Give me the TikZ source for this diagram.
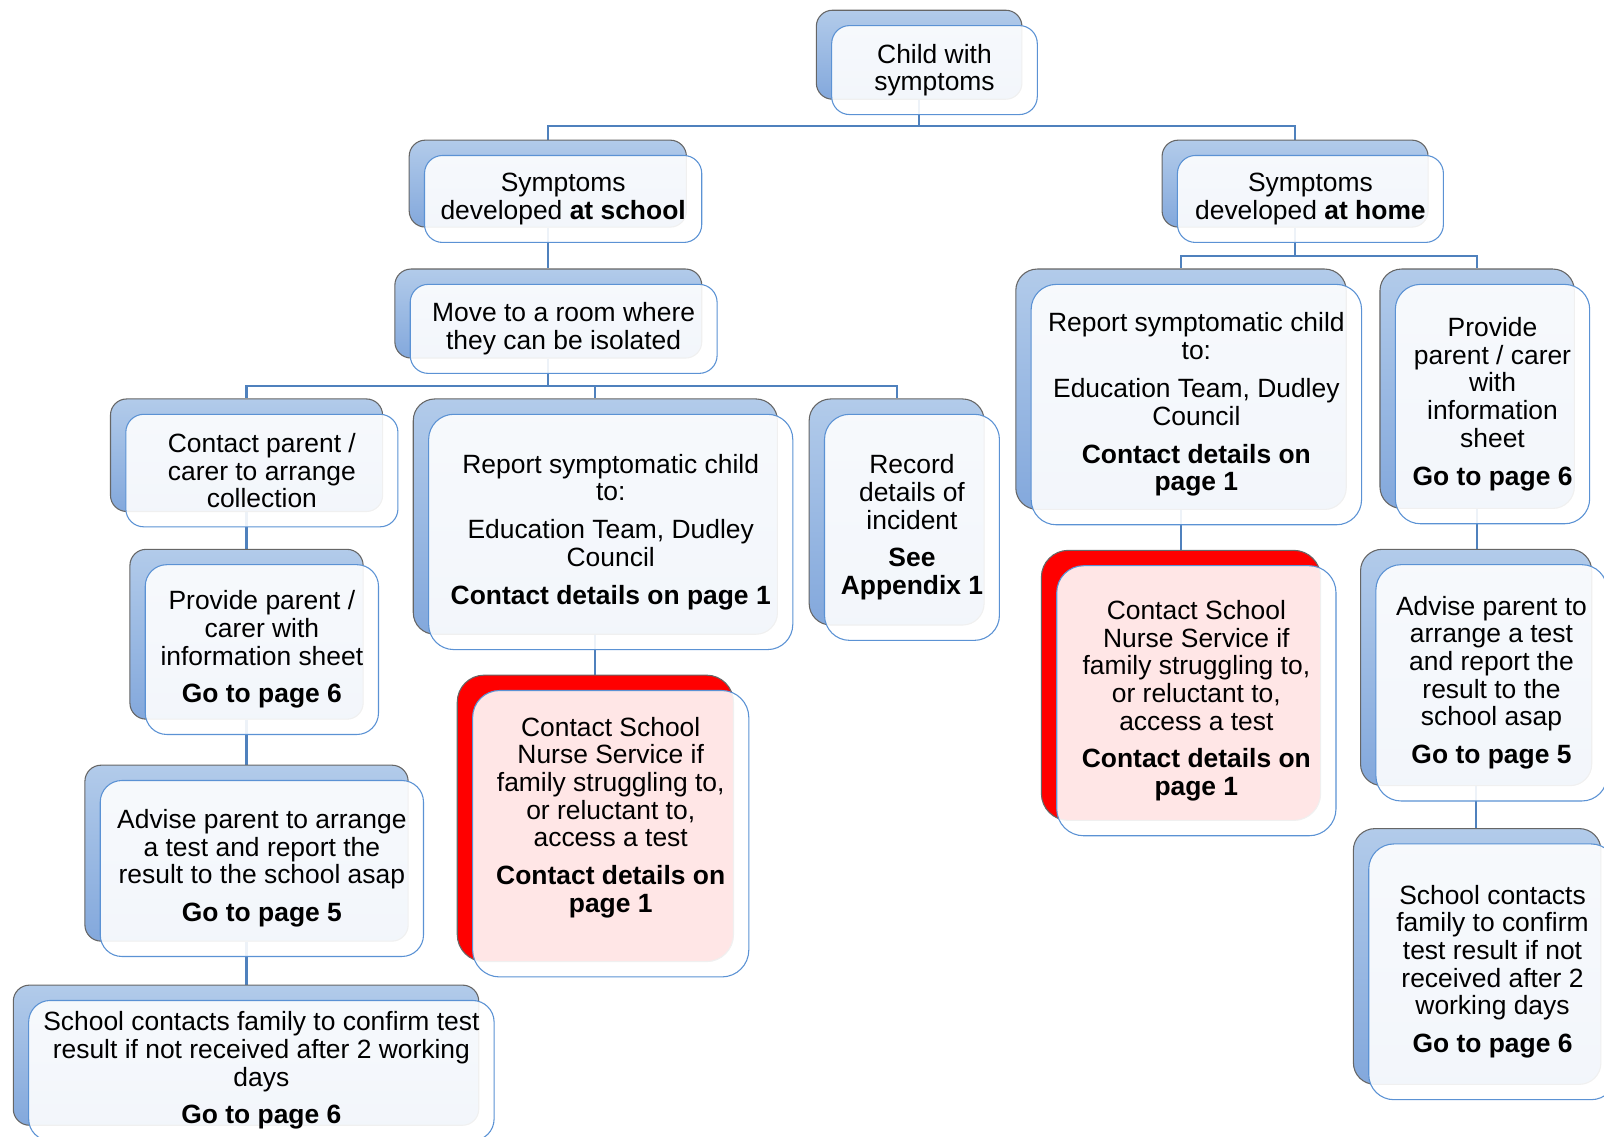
\documentclass[tikz,border=0pt]{standalone}
\usepackage{fontspec}
\setmainfont{Liberation Sans}
\usetikzlibrary{fit,backgrounds}
\definecolor{linkblue}{RGB}{79,129,189}
\definecolor{edgeblue}{RGB}{91,146,212}
\definecolor{shadetop}{RGB}{178,203,234}
\definecolor{shadebot}{RGB}{131,168,220}

\begin{document}
\begin{tikzpicture}[x=0.02cm,y=-0.02cm,
	backbox/.style={rectangle,rounded corners=9pt,draw=black!60,line width=0.6pt,top color=shadetop,bottom color=shadebot,inner sep=0pt},
	redbox/.style={rectangle,rounded corners=15pt,draw=black!60,line width=0.6pt,fill=red,inner sep=0pt},
	frontbox/.style={rectangle,rounded corners=10pt,draw=edgeblue,line width=0.6pt,fill=white,fill opacity=0.9,inner sep=0pt},
	pinkbox/.style={frontbox,rounded corners=15pt},
	cardtext/.style={align=center,inner sep=0pt,font=\fontsize{14.7}{15.4}\selectfont},
	link/.style={draw=linkblue,line width=1.2pt}]
	\useasboundingbox (0,0) rectangle (1568,1111);
	% top
	\node[backbox,fit={(798,10) (999,97)}] (child) {};
	\node[frontbox,fit={(813,25) (1014,112)}] (child-f) {};
	\node[cardtext] (child-t) at (child-f) {Child with\\symptoms};
	\node[backbox,fit={(400,137) (671,222)}] (atschool) {};
	\node[frontbox,fit={(415,152) (686,237)}] (atschool-f) {};
	\node[cardtext] (atschool-t) at (atschool-f) {Symptoms\\developed \textbf{at school}};
	\node[backbox,fit={(1136,137) (1396,222)}] (athome) {};
	\node[frontbox,fit={(1151,152) (1411,237)}] (athome-f) {};
	\node[cardtext] (athome-t) at (athome-f) {Symptoms\\developed \textbf{at home}};
	% at school
	\node[backbox,fit={(386,263) (686,350)}] (isolate) {};
	\node[frontbox,fit={(401,278) (701,365)}] (isolate-f) {};
	\node[cardtext] (isolate-t) at (isolate-f) {Move to a room where\\they can be isolated};
	\node[backbox,fit={(108,390) (374,500)}] (contact) {};
	\node[frontbox,fit={(123,405) (389,515)}] (contact-f) {};
	\node[cardtext] (contact-t) at (contact-f) {Contact parent /\\carer to arrange\\collection};
	\node[backbox,rounded corners=12pt,fit={(404,390) (760,620)}] (report) {};
	\node[frontbox,rounded corners=14pt,fit={(419,405) (775,635)}] (report-f) {};
	\node[cardtext] (report-t) at (report-f) {Report symptomatic child\\to:\\[5.7pt]Education Team, Dudley\\Council\\[5.7pt]\textbf{Contact details on page 1}};
	\node[backbox,rounded corners=12pt,fit={(791,390) (962,611)}] (record) {};
	\node[frontbox,rounded corners=14pt,fit={(806,405) (977,626)}] (record-f) {};
	\node[cardtext] (record-t) at (record-f) {Record\\details of\\incident\\[5.7pt]\textbf{See}\\\textbf{Appendix 1}};
	\node[backbox,fit={(127,537) (355,703)}] (leaflet) {};
	\node[frontbox,rounded corners=12pt,fit={(142,552) (370,718)}] (leaflet-f) {};
	\node[cardtext] (leaflet-t) at (leaflet-f) {Provide parent /\\carer with\\information sheet\\[5.7pt]\textbf{Go to page 6}};
	\node[backbox,fit={(83,748) (399,920)}] (advise) {};
	\node[frontbox,rounded corners=12pt,fit={(98,763) (414,935)}] (advise-f) {};
	\node[cardtext] (advise-t) at (advise-f) {Advise parent to arrange\\a test and report the\\result to the school asap\\[5.7pt]\textbf{Go to page 5}};
	\node[backbox,fit={(13,963) (468,1100)}] (confirm) {};
	\node[frontbox,rounded corners=12pt,fit={(28,978) (483,1115)}] (confirm-f) {};
	\node[cardtext] (confirm-t) at (confirm-f) {School contacts family to confirm test\\result if not received after 2 working\\days\\[5.7pt]\textbf{Go to page 6}};
	\node[redbox,fit={(447,660) (717,940)}] (nurse) {};
	\node[pinkbox,fit={(462,675) (732,955)}] (nurse-f) {};
	\node[cardtext,yshift=9pt] (nurse-t) at (nurse-f) {Contact School\\Nurse Service if\\family struggling to,\\or reluctant to,\\access a test\\[5.7pt]\textbf{Contact details on}\\\textbf{page 1}};
	% at home
	\node[backbox,rounded corners=12pt,fit={(993,263) (1316,498)}] (reporth) {};
	\node[frontbox,rounded corners=14pt,fit={(1008,278) (1331,513)}] (reporth-f) {};
	\node[cardtext] (reporth-t) at (reporth-f) {Report symptomatic child\\to:\\[5.7pt]Education Team, Dudley\\Council\\[5.7pt]\textbf{Contact details on}\\\textbf{page 1}};
	\node[backbox,rounded corners=12pt,fit={(1349,263) (1539,497)}] (leafleth) {};
	\node[frontbox,rounded corners=14pt,fit={(1364,278) (1554,512)}] (leafleth-f) {};
	\node[cardtext] (leafleth-t) at (leafleth-f) {Provide\\parent / carer\\with\\information\\sheet\\[5.7pt]\textbf{Go to page 6}};
	\node[redbox,fit={(1018,538) (1291,802)}] (nurseh) {};
	\node[pinkbox,fit={(1033,553) (1306,817)}] (nurseh-f) {};
	\node[cardtext] (nurseh-t) at (nurseh-f) {Contact School\\Nurse Service if\\family struggling to,\\or reluctant to,\\access a test\\[5.7pt]\textbf{Contact details on}\\\textbf{page 1}};
	\node[backbox,rounded corners=12pt,fit={(1330,537) (1556,768)}] (adviseh) {};
	\node[frontbox,rounded corners=14pt,fit={(1345,552) (1571,783)}] (adviseh-f) {};
	\node[cardtext] (adviseh-t) at (adviseh-f) {Advise parent to\\arrange a test\\and report the\\result to the\\school asap\\[5.7pt]\textbf{Go to page 5}};
	\node[backbox,rounded corners=12pt,fit={(1323,810) (1565,1060)}] (confirmh) {};
	\node[frontbox,rounded corners=14pt,fit={(1338,825) (1580,1075)}] (confirmh-f) {};
	\node[cardtext] (confirmh-t) at (confirmh-f) {School contacts\\family to confirm\\test result if not\\received after 2\\working days\\[5.7pt]\textbf{Go to page 6}};
	% connectors
	\begin{scope}[on background layer]
		\draw[link] (child.south) -- ++(0,26) -| (atschool.north);
		\draw[link] (child.south) -- ++(0,26) -| (athome.north);
		\draw[link] (atschool.south) -- (atschool.south |- isolate.north);
		\draw[link] (isolate.south) -- ++(0,27) -| (contact.north);
		\draw[link] (isolate.south) -- ++(0,27) -| (report.north);
		\draw[link] (isolate.south) -- ++(0,27) -| (record.north);
		\draw[link] (contact.south) -- (contact.south |- leaflet.north);
		\draw[link] (leaflet.south) -- (leaflet.south |- advise.north);
		\draw[link] (advise.south) -- (advise.south |- confirm.north);
		\draw[link] (report.south) -- (report.south |- nurse.north);
		\draw[link] (athome.south) -- ++(0,28) -| (reporth.north);
		\draw[link] (athome.south) -- ++(0,28) -| (leafleth.north);
		\draw[link] (reporth.south) -- (reporth.south |- nurseh.north);
		\draw[link] (leafleth.south) -- (leafleth.south |- adviseh.north);
		\draw[link] (adviseh.south) -- (adviseh.south |- confirmh.north);
	\end{scope}
\end{tikzpicture}
\end{document}
